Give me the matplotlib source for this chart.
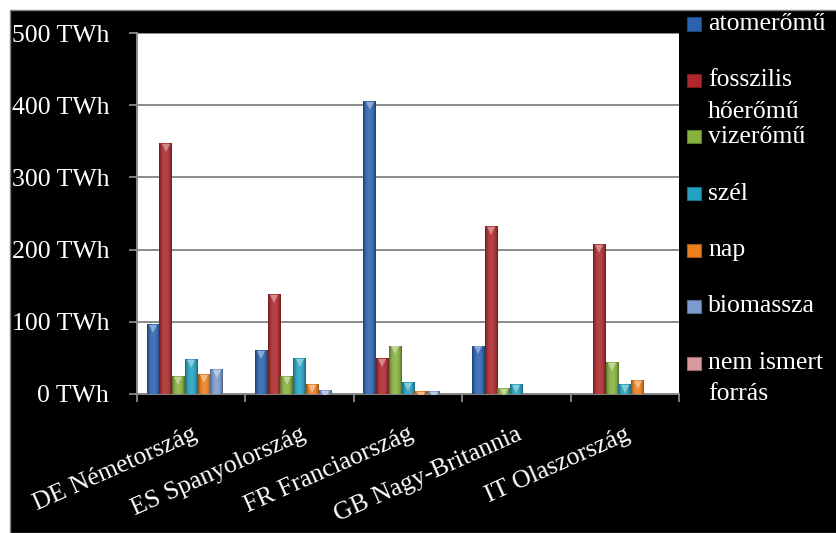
import numpy as np
import matplotlib
matplotlib.use("Agg")
import matplotlib.pyplot as plt
from matplotlib.patches import Rectangle
from matplotlib.colors import to_rgb
from matplotlib.transforms import offset_copy

SERIF = ['Liberation Serif', 'DejaVu Serif']
plt.rcParams['font.family'] = SERIF

countries = ["DE Németország", "ES Spanyolország", "FR Franciaország",
             "GB Nagy-Britannia", "IT Olaszország"]
series = ["atomerőmű", "fosszilis\nhőerőmű", "vizerőmű", "szél", "nap",
          "biomassza", "nem ismert\nforrás"]
atom = [97, 61, 406, 67, 0]
fossil = [348, 138, 50, 232, 208]
hydro = [25, 25, 67, 8, 44]
wind = [48, 50, 17, 14, 14]
solar = [28, 14, 4, 0, 19]
biomass = [34, 5, 4, 0, 0]
unknown = [0, 0, 0, 0, 0]
values = [atom, fossil, hydro, wind, solar, biomass, unknown]
colors = ["#2b63b0", "#ae282d", "#88b23e", "#24a2c2", "#ee801c",
          "#7b9ccf", "#d99a9e"]
yticks = [0, 100, 200, 300, 400, 500]
ytick_labels = [f"{v} TWh" for v in yticks]

W, H = 837, 533
fig = plt.figure(figsize=(W / 100, H / 100), dpi=100)
fig.patch.set_facecolor("white")
# black panel behind the chart
fig.add_artist(Rectangle((10 / W, 0), 1 - 10 / W, 1 - 10 / H,
                         transform=fig.transFigure, facecolor="black",
                         edgecolor="#808080", linewidth=1, zorder=0))

ax = fig.add_axes([137 / W, 1 - 394 / H, (679 - 137) / W, (394 - 33) / H])
ax.set_facecolor("white")
ax.set_zorder(1)

n = len(series)
w = 1 / 8.5
x = np.arange(len(countries))
cap_tr = offset_copy(ax.transData, fig=fig, y=-3.5, units="points")


def shade(rects, color):
    """Give each bar a rounded, bevelled look."""
    base = np.array(to_rgb(color))
    t = np.linspace(0, 1, 40)
    prof = 1 - np.abs(2 * t - 1) ** 2.5   # 0 at edges, 1 in the middle
    light = base + (1 - base) * 0.12
    dark = base * 0.62
    row = dark[None, :] * (1 - prof[:, None]) + light[None, :] * prof[:, None]
    img = np.clip(row[None, :, :], 0, 1)
    cap = base + (1 - base) * 0.45
    for r in rects:
        h = r.get_height()
        if h <= 0:
            continue
        x0 = r.get_x()
        im = ax.imshow(img, extent=[x0, x0 + r.get_width(), 0, h],
                       aspect="auto", interpolation="bilinear", zorder=3)
        im.set_clip_path(r)
        (tri,) = ax.plot(x0 + r.get_width() / 2, h, marker="v",
                         markersize=5.5, color=cap, markeredgewidth=0,
                         zorder=4, transform=cap_tr)
        tri.set_clip_path(r)


for j, (vals, col) in enumerate(zip(values, colors)):
    pos = x + (j - (n - 1) / 2) * w
    bars = ax.bar(pos, vals, width=w, color=col, edgecolor="none", zorder=2)
    shade(bars, col)

ax.set_xlim(-0.5, len(countries) - 0.5)
ax.set_ylim(0, 500)

ax.set_yticks(yticks)
ax.set_yticklabels(ytick_labels, fontsize=18.5, color="white", family=SERIF)
ax.yaxis.grid(True, color="#8a8a8a", linewidth=1.4)
ax.set_axisbelow(True)
ax.tick_params(axis="y", length=6, width=1.3, color="#8a8a8a", pad=14)

ax.set_xticks(np.arange(len(countries) + 1) - 0.5)
ax.set_xticklabels([])
ax.set_xticks(x, minor=True)
ax.set_xticklabels(countries, minor=True, fontsize=18.5, color="white",
                   family=SERIF, rotation=24, ha="right", va="top",
                   rotation_mode="anchor")
ax.tick_params(axis="x", which="major", length=6, width=1.3, color="#8a8a8a")
ax.tick_params(axis="x", which="minor", length=0, pad=21)

for s in ["top", "right"]:
    ax.spines[s].set_visible(False)
for s in ["left", "bottom"]:
    ax.spines[s].set_color("#8a8a8a")
    ax.spines[s].set_linewidth(1.4)

# legend column on the right
for i, (lab, col) in enumerate(zip(series, colors)):
    yc = 24 + 56.5 * i
    base = np.array(to_rgb(col))
    fig.add_artist(Rectangle((687 / W, 1 - (yc + 6.5) / H), 14 / W, 13 / H,
                             transform=fig.transFigure, facecolor=col,
                             edgecolor=base * 0.7, linewidth=0.8, zorder=3))
    for k, line in enumerate(lab.split("\n")):
        fig.text(708 / W, 1 - (yc + 31 * k) / H, line, fontsize=18.5,
                 family=SERIF, color="white", va="center", ha="left",
                 zorder=3)

fig.savefig("out.png", dpi=100, facecolor=fig.get_facecolor())
